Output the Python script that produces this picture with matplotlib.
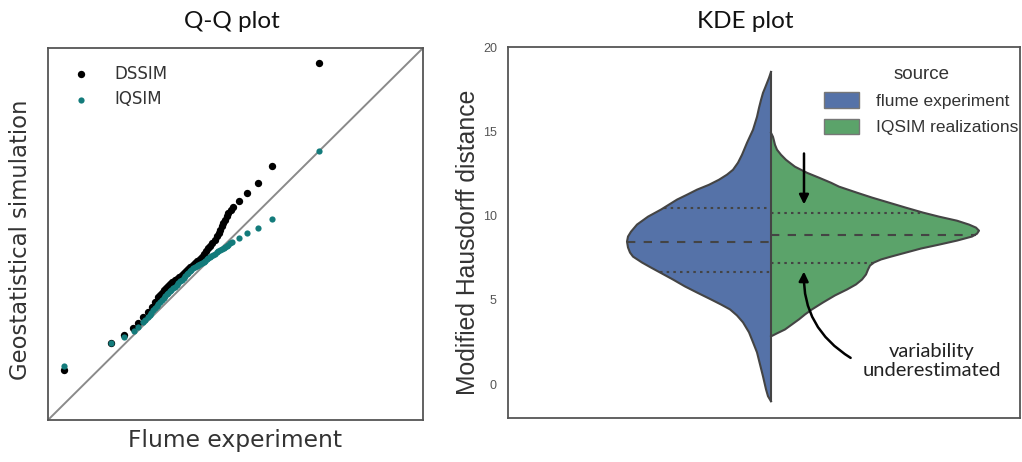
import numpy as np
import matplotlib
matplotlib.use('Agg')
import matplotlib.pyplot as plt
from matplotlib.patches import Patch

W, H = 1022, 462

# Q-Q plot quantiles (arbitrary units, no ticks shown)
dssim_x = [0.43, 1.68, 2.03, 2.27, 2.40, 2.53, 2.67, 2.77, 2.85,
           2.93, 2.99, 3.04, 3.09, 3.15, 3.20, 3.25, 3.31, 3.39, 3.44,
           3.49, 3.57, 3.63, 3.68, 3.73, 3.79, 3.87, 3.92, 3.97, 4.05,
           4.11, 4.16, 4.21, 4.27, 4.32, 4.37, 4.45, 4.51, 4.56, 4.59,
           4.64, 4.67, 4.72, 4.77, 4.80, 4.88, 4.93,
           5.09, 5.31, 5.60, 5.97, 7.23]
dssim_y = [1.34, 2.07, 2.28, 2.47, 2.61, 2.77, 2.90, 3.04, 3.17,
           3.31, 3.36, 3.41, 3.49, 3.55, 3.60, 3.66, 3.71, 3.76, 3.79,
           3.84, 3.90, 3.95, 4.01, 4.06, 4.11, 4.17, 4.22, 4.27, 4.33,
           4.38, 4.46, 4.54, 4.62, 4.68, 4.76, 4.84, 4.95, 5.03, 5.11,
           5.22, 5.30, 5.38, 5.48, 5.56, 5.65, 5.73,
           5.89, 6.10, 6.37, 6.83, 9.60]
iqsim_x = [0.43, 1.68, 2.03, 2.29, 2.40,
           2.53, 2.59, 2.67, 2.72, 2.75, 2.80, 2.85, 2.91, 2.93, 2.99,
           3.04, 3.09, 3.12, 3.17, 3.20, 3.25, 3.28, 3.33, 3.39, 3.44,
           3.47, 3.52, 3.57, 3.63, 3.65, 3.71, 3.73, 3.79, 3.81, 3.87,
           3.92, 3.97, 4.00, 4.05, 4.11, 4.16, 4.19, 4.24, 4.27, 4.32,
           4.35, 4.40, 4.45, 4.51, 4.53, 4.59, 4.64, 4.69, 4.72, 4.77,
           4.80, 4.85, 4.91,
           5.09, 5.31, 5.60, 5.97, 7.23]
iqsim_y = [1.45, 2.07, 2.23, 2.39, 2.50,
           2.63, 2.69, 2.77, 2.82, 2.88, 2.96, 3.01, 3.06, 3.12, 3.17,
           3.23, 3.28, 3.33, 3.39, 3.41, 3.47, 3.49, 3.55, 3.58, 3.63,
           3.68, 3.74, 3.76, 3.82, 3.87, 3.92, 3.95, 4.01, 4.03, 4.09,
           4.11, 4.14, 4.17, 4.19, 4.22, 4.25, 4.27, 4.33, 4.35, 4.38,
           4.41, 4.44, 4.46, 4.52, 4.54, 4.57, 4.60, 4.62, 4.65, 4.68,
           4.70, 4.76, 4.78,
           4.89, 5.03, 5.16, 5.40, 7.23]

# KDE outlines (distance, half width)
flume_y = [18.52, 18.17, 17.87, 17.57, 17.28, 16.86, 16.39, 15.86, 15.09, 14.32,
           13.61, 13.14, 12.72, 12.43, 12.13, 11.83, 11.54, 11.24, 10.95, 10.36,
           9.94, 9.47, 9.05, 8.76, 8.46, 8.11, 7.81, 7.57, 7.22, 6.92,
           6.63, 6.21, 5.80, 5.44, 5.03, 4.73, 4.44, 4.08, 3.67, 3.08,
           2.49, 1.89, 1.18, 0.47, -0.30, -0.71, -1.01]
flume_w = [0.0, 0.02, 0.04, 0.06, 0.08, 0.10, 0.12, 0.14, 0.18, 0.24,
           0.29, 0.33, 0.38, 0.44, 0.52, 0.62, 0.74, 0.84, 0.94, 1.10,
           1.23, 1.34, 1.40, 1.43, 1.44, 1.43, 1.41, 1.38, 1.29, 1.20,
           1.11, 0.98, 0.86, 0.74, 0.60, 0.50, 0.41, 0.34, 0.28, 0.22,
           0.18, 0.14, 0.11, 0.08, 0.05, 0.03, 0.0]
iqsim_kde_y = [14.91, 14.79, 14.67, 14.44, 14.20, 13.91, 13.61, 13.31, 13.08, 12.90,
               12.72, 12.54, 12.25, 11.95, 11.72, 11.36, 11.07, 10.77, 10.47, 10.18,
               9.94, 9.70, 9.47, 9.29, 9.11, 8.93, 8.76, 8.52, 8.28, 8.05,
               7.81, 7.57, 7.40, 7.22, 7.04, 6.80, 6.51, 6.21, 5.92, 5.62,
               5.27, 4.85, 4.44, 4.14, 3.85, 3.55, 3.25, 3.02, 2.84]
iqsim_kde_w = [0.0, 0.01, 0.02, 0.03, 0.04, 0.06, 0.10, 0.15, 0.20, 0.24,
               0.30, 0.36, 0.48, 0.60, 0.68, 0.86, 1.01, 1.18, 1.35, 1.52,
               1.68, 1.86, 1.98, 2.05, 2.08, 2.06, 2.01, 1.86, 1.68, 1.50,
               1.35, 1.20, 1.10, 1.03, 0.99, 0.97, 0.95, 0.91, 0.85, 0.76,
               0.64, 0.52, 0.41, 0.34, 0.28, 0.21, 0.14, 0.06, 0.0]
flume_q = [6.63, 8.46, 10.47]
iqsim_q = [7.22, 8.88, 10.18]

blue = '#5572A8'
green = '#5BA36A'
teal = '#137B7B'
edge = '#444444'

fig = plt.figure(figsize=(W / 100, H / 100), dpi=100)

# ---- Q-Q plot
ax1 = fig.add_axes([48 / W, 1 - 420 / H, 375 / W, 372 / H])
ax1.plot([0, 10], [0, 10], color='#8a8a8a', lw=1.4, zorder=1)
ax1.scatter(dssim_x, dssim_y, s=28, color='black', lw=0, label='DSSIM', zorder=2)
ax1.scatter(iqsim_x, iqsim_y, s=20, color=teal, lw=0, label='IQSIM', zorder=3)
ax1.set_xlim(0, 10)
ax1.set_ylim(0, 10)
ax1.set_xticks([])
ax1.set_yticks([])
for s in ax1.spines.values():
    s.set_color('#555555')
    s.set_linewidth(1.3)
leg1 = ax1.legend(loc='upper left', bbox_to_anchor=(0.0, 1.0), frameon=False,
                  fontsize=12, handletextpad=1.0, labelspacing=0.45,
                  borderaxespad=0.6, scatterpoints=1)
for t in leg1.get_texts():
    t.set_color('#333333')

fig.text(232 / W, 1 - 22 / H, 'Q-Q plot', ha='center', va='center',
         fontsize=17.5, family='Lato', color='#111111')
fig.text(235 / W, 1 - 441 / H, 'Flume experiment', ha='center', va='center',
         fontsize=16.8, color='#333333')
fig.text(21 / W, 1 - 240 / H, 'Geostatistical simulation', ha='center', va='center',
         fontsize=16.4, rotation=90, color='#333333')

# ---- KDE plot (split violin)
ax2 = fig.add_axes([508 / W, 1 - 418 / H, 512 / W, 371 / H])
fy = np.array(flume_y)
fw = np.array(flume_w)
gy = np.array(iqsim_kde_y)
gw = np.array(iqsim_kde_w)
ax2.fill_betweenx(fy, -fw, 0, facecolor=blue, edgecolor='none', zorder=1)
ax2.fill_betweenx(gy, 0, gw, facecolor=green, edgecolor='none', zorder=1)
ax2.plot(-fw, fy, color=edge, lw=1.5, zorder=3, solid_joinstyle='round')
ax2.plot(gw, gy, color=edge, lw=1.5, zorder=3, solid_joinstyle='round')
ax2.plot([0, 0], [min(fy), max(fy)], color=edge, lw=1.5, zorder=3)

# quartile lines
order_f = np.argsort(fy)
order_g = np.argsort(gy)
for i, q in enumerate(flume_q):
    w = np.interp(q, fy[order_f], fw[order_f])
    ax2.plot([-w, 0], [q, q], color=edge, lw=1.5,
             ls=(0, (4, 4)) if i == 1 else (0, (1.2, 2)), zorder=2)
for i, q in enumerate(iqsim_q):
    w = np.interp(q, gy[order_g], gw[order_g])
    ax2.plot([0, w], [q, q], color=edge, lw=1.5,
             ls=(0, (4, 4)) if i == 1 else (0, (1.2, 2)), zorder=2)

ax2.set_xlim(-2.63, 2.49)
ax2.set_ylim(-2, 20)
ax2.set_xticks([])
ax2.set_yticks([0, 5, 10, 15, 20])
ax2.tick_params(axis='y', length=0, labelsize=9, labelcolor='#555555', pad=8)
for s in ax2.spines.values():
    s.set_color('#555555')
    s.set_linewidth(1.3)

ax2.annotate('', xy=(0.33, 10.5), xytext=(0.33, 13.85),
             arrowprops=dict(arrowstyle='-|>', color='black', lw=1.8,
                             mutation_scale=14))
ax2.annotate('', xy=(0.33, 6.85), xytext=(0.82, 1.48),
             arrowprops=dict(arrowstyle='-|>', color='black', lw=1.8,
                             mutation_scale=14,
                             connectionstyle='arc3,rad=-0.3'))
ax2.text(1.61, 1.36, 'variability\nunderestimated', ha='center', va='center',
         fontsize=14.5, family='Lato', color='#222222', linespacing=1.15)

handles = [Patch(facecolor=blue, edgecolor='#777777', label='flume experiment'),
           Patch(facecolor=green, edgecolor='#777777', label='IQSIM realizations')]
leg2 = ax2.legend(handles=handles, title='source', loc='upper left',
                  bbox_to_anchor=(817 / W, 1 - 59 / H), bbox_transform=fig.transFigure,
                  frameon=False, fontsize=12.5, title_fontsize=13.5,
                  handlelength=2.0, handleheight=1.0, labelspacing=0.55,
                  handletextpad=1.0, borderaxespad=0.0)
for t in leg2.get_texts():
    t.set_color('#333333')
    t.set_family('Liberation Sans')
leg2.get_title().set_color('#333333')
leg2.get_title().set_family('Liberation Sans')

fig.text(745 / W, 1 - 22 / H, 'KDE plot', ha='center', va='center',
         fontsize=17.5, family='Lato', color='#111111')
fig.text(468 / W, 1 - 242 / H, 'Modified Hausdorff distance', ha='center', va='center',
         fontsize=17.8, rotation=90, color='#333333', family='Liberation Sans')
for lab in ax2.get_yticklabels():
    lab.set_family('Liberation Sans')

fig.savefig('out.png', dpi=100)
